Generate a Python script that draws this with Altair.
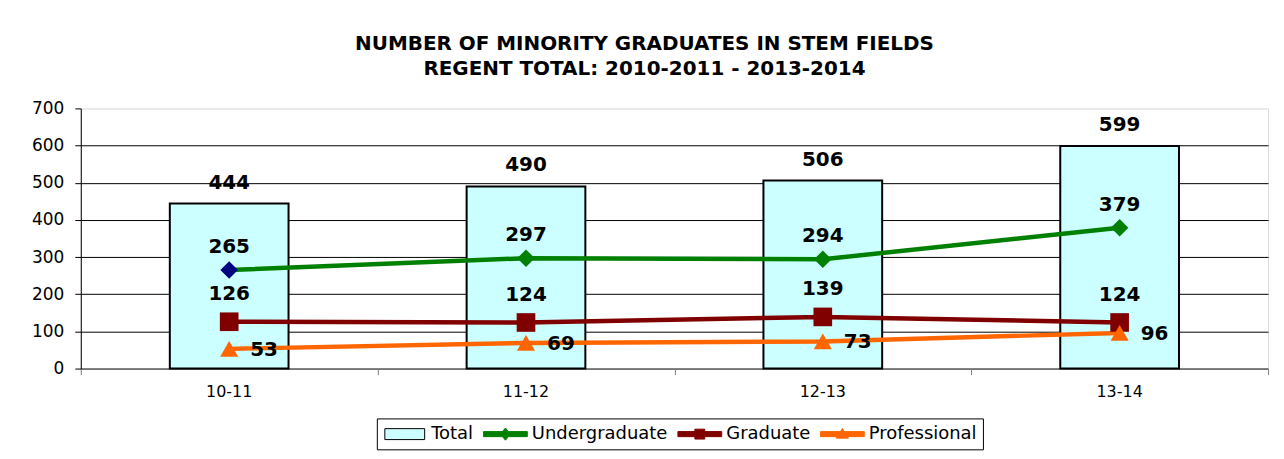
import altair as alt
import pandas as pd

years = ["10-11", "11-12", "12-13", "13-14"]
total = [444, 490, 506, 599]
undergraduate = [265, 297, 294, 379]
graduate = [126, 124, 139, 124]
professional = [53, 69, 73, 96]

series_names = ["Total", "Undergraduate", "Graduate", "Professional"]
series_fill = ["#CCFFFF", "#008000", "#800000", "#FF6600"]
series_stroke = ["#000000", "#008000", "#800000", "#FF6600"]
# legend swatches (unit = half of the symbol slot)
legend_paths = [
    "M-2.22,-0.61H2.22V0.61H-2.22Z",
    "M-2.44,-0.28H2.44V0.28H-2.44Z M0,-0.68L0.55,0L0,0.68L-0.55,0Z",
    "M-2.44,-0.28H2.44V0.28H-2.44Z M-0.55,-0.55H0.55V0.55H-0.55Z",
    "M-2.44,-0.28H2.44V0.28H-2.44Z M0,-0.62L0.68,0.45H-0.68Z",
]

rows = []
for name, vals in zip(series_names, [total, undergraduate, graduate, professional]):
    for yr, v in zip(years, vals):
        rows.append({"year": yr, "series": name, "value": v})
df = pd.DataFrame(rows)

FONT = "DejaVu Sans"

x_enc = alt.X(
    "year:N",
    sort=years,
    scale=alt.Scale(paddingInner=0.6, paddingOuter=0.3),
    axis=alt.Axis(
        title=None, orient="bottom", labelAngle=0, labelFontSize=16, labelFont=FONT,
        labelColor="black", ticks=False, domainColor="#808080",
        labelPadding=15, grid=False,
    ),
)
y_enc = alt.Y(
    "value:Q",
    scale=alt.Scale(domain=[0, 700], nice=False),
    axis=alt.Axis(
        title=None, values=[0, 100, 200, 300, 400, 500, 600, 700], tickCount=8,
        labelOverlap=False,
        labelFontSize=17, labelFont=FONT, labelColor="black",
        tickSize=6, tickColor="black", domainColor="black", labelPadding=11,
        grid=True,
        gridColor=alt.condition("datum.value == 700", alt.value("#e6e6e6"), alt.value("#000000")),
        gridWidth=1,
    ),
)

base = alt.Chart(df)

bars = base.transform_filter("datum.series == 'Total'").mark_bar(
    fill=series_fill[0], stroke=series_stroke[0], strokeWidth=2
).encode(x=x_enc, y=y_enc)

def line_layer(i):
    return base.transform_filter(f"datum.series == '{series_names[i]}'").mark_line(
        strokeWidth=4.5, stroke=series_stroke[i]
    ).encode(x=x_enc, y=y_enc)

lines = [line_layer(1), line_layer(2), line_layer(3)]

und_pts = base.transform_filter("datum.series == 'Undergraduate'").mark_point(
    shape="diamond", filled=True, size=310, opacity=1
).encode(
    x=x_enc,
    y=y_enc,
    fill=alt.condition("datum.year == '10-11'", alt.value("#000080"), alt.value(series_fill[1])),
)
grad_pts = base.transform_filter("datum.series == 'Graduate'").mark_point(
    shape="square", filled=True, size=350, opacity=1, fill=series_fill[2]
).encode(x=x_enc, y=y_enc)
prof_pts = base.transform_filter("datum.series == 'Professional'").mark_point(
    shape="triangle-up", filled=True, size=330, opacity=1, fill=series_fill[3]
).encode(x=x_enc, y=y_enc)

def labels(series, dx, dy):
    return base.transform_filter(f"datum.series == '{series}'").mark_text(
        font=FONT, fontSize=20, fontWeight="bold", color="black",
        align="center", baseline="middle", dx=dx, dy=dy,
    ).encode(x=x_enc, y=y_enc, text="value:Q")

lab_total = labels("Total", 0, -21)
lab_und = labels("Undergraduate", 0, -23)
lab_grad = labels("Graduate", 0, -28)
lab_prof = labels("Professional", 35, 1)

legend_spec = alt.Legend(
    title=None, orient="none", legendX=297, legendY=311, direction="horizontal",
    labelFont=FONT, labelFontSize=18, labelColor="black",
    symbolSize=324, symbolStrokeWidth=1, symbolOffset=12.5, labelOffset=17,
    columnPadding=8, strokeColor="black", fillColor="white", padding=6,
)

fill_scale = alt.Scale(domain=series_names, range=series_fill)
stroke_scale = alt.Scale(domain=series_names, range=series_stroke)
shape_scale = alt.Scale(domain=series_names, range=legend_paths)

legend_layer = base.mark_point(filled=True, opacity=1, size=0).encode(
    x=x_enc,
    y=y_enc,
    fill=alt.Fill("series:N", scale=fill_scale, legend=legend_spec),
    stroke=alt.Stroke("series:N", scale=stroke_scale, legend=legend_spec),
    shape=alt.Shape("series:N", scale=shape_scale, legend=legend_spec),
)

main = alt.layer(
    bars, *lines, und_pts, grad_pts, prof_pts,
    lab_total, lab_und, lab_grad, lab_prof, legend_layer,
)

# category-boundary tick marks of the x axis
tick_layer = base.mark_point(size=0, opacity=0).encode(
    x=alt.X(
        "year:N", sort=years,
        scale=alt.Scale(paddingInner=0, paddingOuter=0),
        axis=alt.Axis(
            title=None, orient="bottom", labels=False, domain=False, grid=False,
            tickBand="extent", tickSize=6, tickColor="#808080", tickWidth=1,
        ),
    ),
    y=y_enc,
)

chart = alt.layer(main, tick_layer).resolve_scale(x="independent").properties(
    width=1191,
    height=261,
    autosize=alt.AutoSizeParams(type="none"),
    padding={"left": 73, "top": 100, "right": 8, "bottom": 90},
    title=alt.TitleParams(
        text=["NUMBER OF MINORITY GRADUATES IN STEM FIELDS", "REGENT TOTAL: 2010-2011 -  2013-2014"],
        font=FONT, fontSize=20, fontWeight="bold", color="black",
        anchor="middle", dx=-30, offset=20, lineHeight=26,
    ),
).configure_view(stroke=None).configure(background="white")

chart.save("out.html", embed_options={"renderer": "svg", "actions": False})
